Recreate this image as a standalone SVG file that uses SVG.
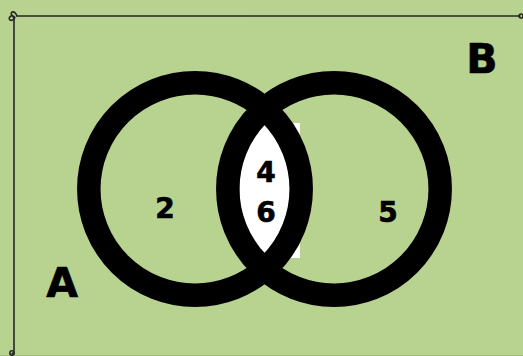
<svg xmlns="http://www.w3.org/2000/svg" width="523" height="356" viewBox="0 0 523 356">
  <style>
    .frame { fill: none; stroke: #262626; stroke-width: 1.6; stroke-linecap: round; }
    .ring { fill: none; stroke: #000; stroke-width: 23.5; }
    .lbl { font-family: "DejaVu Sans", "Liberation Sans", sans-serif; font-weight: bold; fill: #000; stroke: #000; stroke-width: 0.7; text-anchor: middle; }
    .num { font-size: 28px; }
    .set { font-size: 41px; }
  </style>
  <rect x="0" y="0" width="523" height="356" fill="#b8d390"/>
  <line x1="0" y1="355.5" x2="523" y2="355.5" stroke="#9fb97a" stroke-width="1"/>
  <g id="universe">
    <path class="frame" d="M17,16 L520,16"/>
    <path class="frame" d="M14,19 L14,350 Q14,353 12,354"/>
    <path class="frame" d="M17,16 Q15,11 12,12 Q10,14 13,16 Q16,17 14,19 Q12,21 10,20 Q8,18 11,16 Q13,15 14,19"/>
    <circle cx="12" cy="353" r="2.2" class="frame"/>
    <circle cx="521" cy="16" r="2" class="frame"/>
  </g>
  <g id="intersection">
    <rect x="240" y="123" width="60" height="135" fill="#ffffff"/>
  </g>
  <g id="set-A-ring">
    <circle class="ring" cx="195" cy="189" r="106.2"/>
  </g>
  <g id="set-B-ring">
    <circle class="ring" cx="334" cy="189" r="106.2"/>
  </g>
  <g id="labels">
    <text class="lbl num" x="165" y="218">2</text>
    <text class="lbl num" x="266" y="182">4</text>
    <text class="lbl num" x="266" y="222">6</text>
    <text class="lbl num" x="388" y="222">5</text>
    <text class="lbl set" x="62" y="297">A</text>
    <text class="lbl set" x="482" y="73">B</text>
  </g>
</svg>
